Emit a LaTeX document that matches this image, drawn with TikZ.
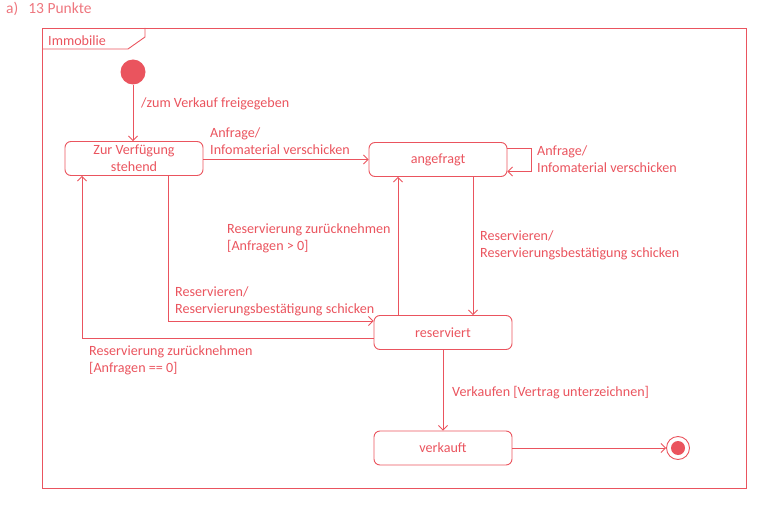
\documentclass[tikz,border=0pt]{standalone}
\usepackage{fontspec}
\setmainfont{Carlito}
\usetikzlibrary{arrows.meta}
\definecolor{umlred}{RGB}{234,84,94}
\begin{document}
\begin{tikzpicture}[x=1pt,y=-1pt,
  every node/.style={font=\fontsize{14.1}{17}\selectfont, text=umlred},
  state/.style={draw=umlred, rounded corners=6pt, line width=0.9pt, minimum width=138pt, minimum height=34pt, inner sep=0pt, align=center},
  tr/.style={draw=umlred, line width=0.9pt, -{Straight Barb[length=4.5pt,width=9pt]}},
  lbl/.style={anchor=west, align=left, inner sep=0pt}]
\useasboundingbox (0,0) rectangle (760,513);
% heading
\node[lbl, text=umlred!80, font=\fontsize{15.5}{18}\selectfont] (head) at (6,9) {a)\hspace{10pt}13 Punkte};
% frame
\draw[umlred, line width=0.9pt] (42,28) rectangle (746,488);
\draw[umlred, line width=0.9pt] (42,49) -- (128,49) -- (145,37) -- (145,28);
\node[lbl] (frametitle) at (48,41) {Immobilie};
% states
\node[circle, fill=umlred, minimum size=25pt, inner sep=0pt] (init) at (133,72) {};
\node[state] (zur) at (134,158.5) {Zur Verfügung\\stehend};
\node[state] (ang) at (438,159.5) {angefragt};
\node[state] (res) at (443,332.5) {reserviert};
\node[state] (ver) at (443,448) {verkauft};
\node[circle, draw=umlred, line width=0.9pt, minimum size=23pt, inner sep=0pt] (fin) at (678,448) {};
\node[circle, fill=umlred, minimum size=14pt, inner sep=0pt] (finin) at (678,448) {};
% helper coordinates
\coordinate (xa) at (473,0);
\coordinate (xb) at (398,0);
\coordinate (xc) at (168,0);
\coordinate (xd) at (82,0);
\coordinate (xe) at (443,0);
\coordinate (ya) at (0,321);
\coordinate (yb) at (0,338);
% transitions
\draw[tr] (init) -- (init |- zur.north);
\node[lbl] (l1) at (141,103.5) {/zum Verkauf freigegeben};
\draw[tr] (zur.east |- ang.west) -- (ang.west);
\node[lbl] (l2) at (210,141) {Anfrage/\\Infomaterial verschicken};
\draw[tr] ([yshift=11.5pt]ang.east) -- ++(24,0) -- ++(0,23.5) -- ([yshift=-12pt]ang.east);
\node[lbl] (l3) at (537,159.5) {Anfrage/\\Infomaterial verschicken};
\draw[tr] (ang.south -| xa) -- (res.north -| xa);
\node[lbl] (l4) at (480,245.5) {Reservieren/\\Reservierungsbestätigung schicken};
\draw[tr] (res.north -| xb) -- (ang.south -| xb);
\node[lbl] (l5) at (227,238.5) {Reservierung zurücknehmen\\{[}Anfragen > 0{]}};
\draw[tr] (zur.south -| xc) -- (xc |- ya) -- (res.west |- ya);
\node[lbl] (l6) at (175,301.5) {Reservieren/\\Reservierungsbestätigung schicken};
\draw[tr] (res.west |- yb) -- (xd |- yb) -- (zur.south -| xd);
\node[lbl] (l7) at (89,360.5) {Reservierung zurücknehmen\\{[}Anfragen == 0{]}};
\draw[tr] (res.south -| xe) -- (ver.north -| xe);
\node[lbl] (l8) at (452,393) {Verkaufen [Vertrag unterzeichnen]};
\draw[tr] (ver.east) -- (fin.west);
\end{tikzpicture}
\end{document}
